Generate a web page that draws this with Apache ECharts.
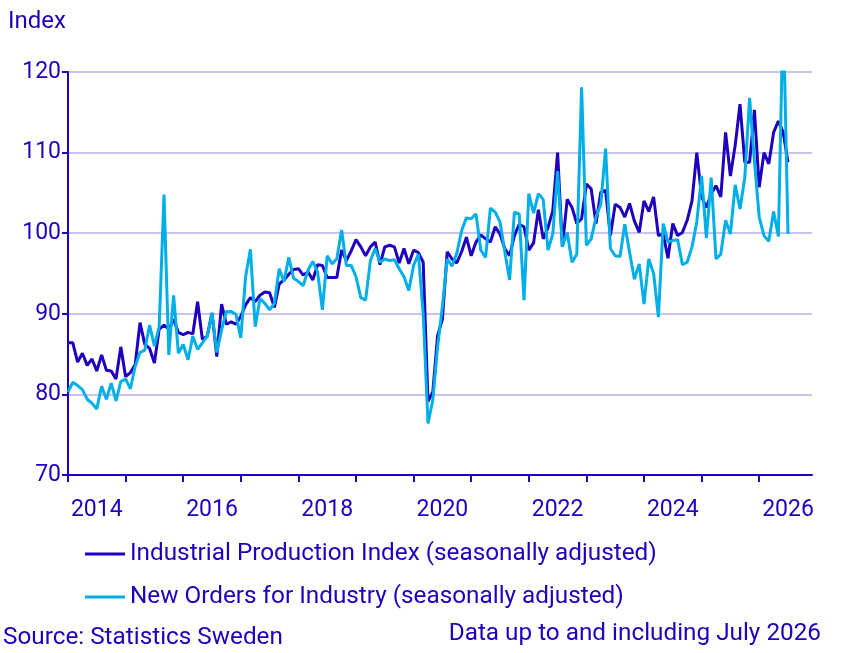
<!DOCTYPE html>
<html>
<head>
<meta charset="utf-8">
<script src="https://cdn.jsdelivr.net/npm/echarts@6/dist/echarts.min.js"></script>
<style>
html,body{margin:0;padding:0;background:#fff;}
#chart{width:851px;height:653px;}
</style>
</head>
<body>
<div id="chart"></div>
<script>
// Monthly data, Jan 2014 .. Jul 2026
const startYear = 2014;
const endYear = 2026;
const seriesNames = [
  'Industrial Production Index (seasonally adjusted)',
  'New Orders for Industry (seasonally adjusted)'
];
const productionIndex = [
  86.4, 86.4, 84.0, 85.1, 83.6, 84.4, 82.9, 84.9, 83.0, 82.9, 81.9, 85.9,
  82.2, 82.7, 83.7, 88.9, 86.2, 85.7, 83.9, 88.1, 88.6, 88.1, 89.3, 87.7,
  87.4, 87.7, 87.5, 91.5, 86.8, 87.2, 90.1, 84.7, 91.2, 88.7, 89.0, 88.7,
  89.7, 91.1, 92.0, 91.5, 92.3, 92.7, 92.6, 90.8, 93.7, 94.2, 94.9, 95.5,
  95.6, 94.8, 95.2, 94.2, 96.1, 96.0, 94.5, 94.5, 94.5, 97.9, 96.6, 97.8,
  99.2, 98.3, 97.2, 98.3, 98.9, 96.1, 98.3, 98.5, 98.3, 96.3, 98.1, 96.2,
  97.9, 97.6, 96.4, 79.1, 80.3, 87.3, 89.3, 97.7, 96.8, 96.3, 97.7, 99.5,
  97.2, 98.9, 99.8, 99.3, 98.9, 100.8, 99.9, 98.1, 97.2, 99.7, 101.1, 100.8,
  97.9, 98.8, 102.9, 99.3, 100.7, 102.8, 110.0, 98.3, 104.2, 103.2, 101.2, 101.8,
  106.1, 105.5, 101.2, 105.1, 105.3, 99.7, 103.6, 103.2, 102.0, 103.7, 101.5, 100.1,
  104.0, 102.7, 104.5, 99.7, 99.9, 96.9, 101.2, 99.7, 100.1, 101.6, 104.0, 110.0,
  104.5, 103.2, 104.9, 105.9, 104.5, 112.5, 107.1, 110.9, 116.0, 108.8, 108.8, 115.3,
  105.7, 110.0, 108.6, 112.5, 113.9, 112.5, 108.8
];
const newOrders = [
  80.3, 81.5, 81.1, 80.6, 79.4, 78.9, 78.2, 81.0, 79.4, 81.4, 79.2, 81.6,
  81.9, 80.7, 83.5, 85.2, 85.5, 88.6, 86.0, 88.4, 104.8, 84.9, 92.3, 85.1,
  86.2, 84.3, 87.2, 85.6, 86.4, 87.2, 90.1, 85.2, 88.0, 90.3, 90.3, 89.9,
  87.0, 94.6, 98.0, 88.4, 91.9, 91.3, 90.5, 91.3, 95.6, 94.0, 97.0, 94.4,
  94.0, 93.5, 95.4, 96.5, 95.2, 90.5, 97.2, 96.2, 96.8, 100.4, 96.0, 96.0,
  94.6, 92.0, 91.7, 96.6, 98.1, 96.4, 96.8, 96.6, 96.7, 95.6, 94.6, 92.9,
  96.0, 97.4, 90.0, 76.4, 79.3, 85.9, 90.9, 96.8, 95.9, 97.5, 100.3, 101.9,
  101.8, 102.4, 97.9, 97.0, 103.1, 102.6, 101.4, 97.7, 94.2, 102.6, 102.4, 91.7,
  104.9, 102.5, 104.9, 104.2, 97.9, 99.9, 107.7, 98.3, 100.1, 96.4, 97.4, 118.1,
  98.5, 99.3, 102.0, 103.6, 110.5, 98.1, 97.2, 97.1, 101.1, 97.6, 94.3, 96.2,
  91.2, 96.8, 95.0, 89.6, 101.2, 98.9, 99.1, 99.2, 96.1, 96.4, 98.3, 101.4,
  107.1, 99.4, 106.9, 96.8, 97.4, 101.6, 99.9, 106.0, 103.0, 106.9, 116.8, 109.0,
  102.0, 99.7, 99.0, 102.7, 99.6, 128.0, 99.9
];
const yTicks = [70, 80, 90, 100, 110, 120];

const months = [];
for (let y = startYear; y <= endYear; y++) {
  for (let m = 1; m <= 12; m++) months.push(y + '-' + (m < 10 ? '0' + m : m));
}

const dark = '#1e00be';
const light = '#00aee8';
const font = 'Roboto';

const chart = echarts.init(document.getElementById('chart'), null, {renderer: 'canvas'});
chart.setOption({
  animation: false,
  backgroundColor: '#ffffff',
  textStyle: {fontFamily: font},
  title: [
    {text: 'Index', left: 3, top: 5, padding: 5, textStyle: {color: dark, fontSize: 24, fontWeight: 'normal', fontFamily: font}}
  ],
  graphic: [
    {type: 'text', left: 3, top: 626, style: {text: 'Source: Statistics Sweden', fill: dark, font: '24.3px Roboto'}},
    {type: 'text', right: 30, top: 622, style: {text: 'Data up to and including July 2026', fill: dark, font: '24.3px Roboto'}}
  ],
  legend: {
    orient: 'vertical',
    left: 80,
    top: 537,
    itemGap: 19,
    itemWidth: 40,
    itemHeight: 3,
    icon: 'rect',
    textStyle: {color: dark, fontSize: 24.3, fontFamily: font, lineHeight: 24},
    data: seriesNames
  },
  grid: {left: 68, right: 39, top: 72, bottom: 178, containLabel: false},
  xAxis: {
    type: 'category',
    data: months,
    boundaryGap: false,
    axisLine: {lineStyle: {color: dark, width: 2}},
    axisTick: {
      show: true,
      length: 7,
      lineStyle: {color: dark, width: 2},
      interval: function (idx) { return idx % 12 === 0; }
    },
    axisLabel: {
      color: dark,
      fontSize: 23,
      fontFamily: font,
      margin: 24,
      interval: function (idx) { return idx % 24 === 6; },
      formatter: function (v) { return v.slice(0, 4); }
    },
    splitLine: {show: false}
  },
  yAxis: {
    type: 'value',
    min: yTicks[0],
    max: yTicks[yTicks.length - 1],
    interval: 10,
    axisLine: {show: true, lineStyle: {color: dark, width: 2}},
    axisTick: {show: true, length: 6, lineStyle: {color: dark, width: 2}},
    axisLabel: {color: dark, fontSize: 23, fontFamily: font, margin: 7},
    splitLine: {lineStyle: {color: '#c9c3ef', width: 2}}
  },
  series: [
    {
      name: seriesNames[0],
      type: 'line',
      data: productionIndex,
      symbol: 'none',
      clip: true,
      lineStyle: {color: dark, width: 3},
      itemStyle: {color: dark}
    },
    {
      name: seriesNames[1],
      type: 'line',
      data: newOrders,
      symbol: 'none',
      clip: true,
      lineStyle: {color: light, width: 3},
      itemStyle: {color: light}
    }
  ]
});
</script>
</body>
</html>
